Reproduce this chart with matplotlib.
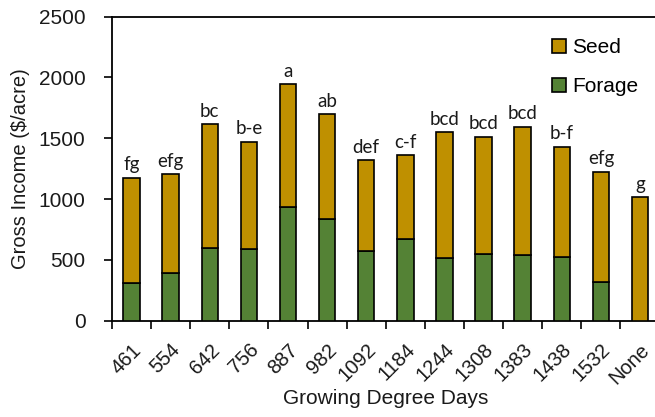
import matplotlib
matplotlib.use("Agg")
import matplotlib.pyplot as plt
import numpy as np

categories = ["461", "554", "642", "756", "887", "982", "1092", "1184", "1244",
              "1308", "1383", "1438", "1532", "None"]
forage = [310, 395, 595, 587, 938, 836, 573, 669, 518, 546, 538, 526, 321, 0]
total = [1176, 1204, 1618, 1472, 1944, 1700, 1321, 1363, 1549, 1513, 1595, 1431, 1225, 1015]
seed = [t - f for t, f in zip(total, forage)]
letters = ["fg", "efg", "bc", "b-e", "a", "ab", "def", "c-f", "bcd", "bcd", "bcd",
           "b-f", "efg", "g"]

plt.rcParams['font.family'] = ['Liberation Sans', 'DejaVu Sans']

fig = plt.figure(figsize=(6.55, 4.17), dpi=100)
ax = fig.add_axes([0.171, 0.231, 0.836, 0.729])

x = np.arange(len(categories))
green = "#548235"
gold = "#BF9000"
w = 0.42
ax.bar(x, forage, width=w, color=green, edgecolor="black", linewidth=1.2, label="Forage", zorder=3)
ax.bar(x, seed, width=w, bottom=forage, color=gold, edgecolor="black", linewidth=1.2, label="Seed", zorder=3)

for xi, t, lab in zip(x, total, letters):
    ax.text(xi, t + 35, lab, ha="center", va="bottom", fontsize=13.5,
            family=["Lato", "DejaVu Sans"], color="#1a1a1a")

ax.set_xlim(-0.5, len(categories) - 0.5)
ax.set_ylim(0, 2500)
ax.set_yticks(np.arange(0, 2501, 500))
ax.set_xticks(x)
ax.set_xticklabels(categories, rotation=45, ha="right", rotation_mode="anchor",
                   fontsize=14.5, color="#1a1a1a")
ax.set_xticks(np.arange(-0.5, len(categories), 1), minor=True)
ax.tick_params(axis="x", which="major", length=0, pad=14)
ax.tick_params(axis="x", which="minor", length=6, width=1.2, direction="out")
ax.tick_params(axis="y", length=6, width=1.2, direction="out", labelsize=15,
               labelcolor="#1a1a1a", pad=13)

for s in ["left", "bottom", "top"]:
    ax.spines[s].set_linewidth(1.3)
ax.spines["right"].set_visible(False)

ax.set_ylabel("Gross Income ($/acre)", fontsize=14.5, color="#1a1a1a", labelpad=6)
ax.set_xlabel("Growing Degree Days", fontsize=15, color="#1a1a1a", labelpad=1)

handles, labels = ax.get_legend_handles_labels()
leg = ax.legend(handles[::-1], labels[::-1], loc="upper right", bbox_to_anchor=(0.995, 0.99),
                frameon=False, fontsize=15, handlelength=0.65, handleheight=0.65,
                handletextpad=0.3, labelspacing=0.95)

fig.savefig("out.png", dpi=100)
